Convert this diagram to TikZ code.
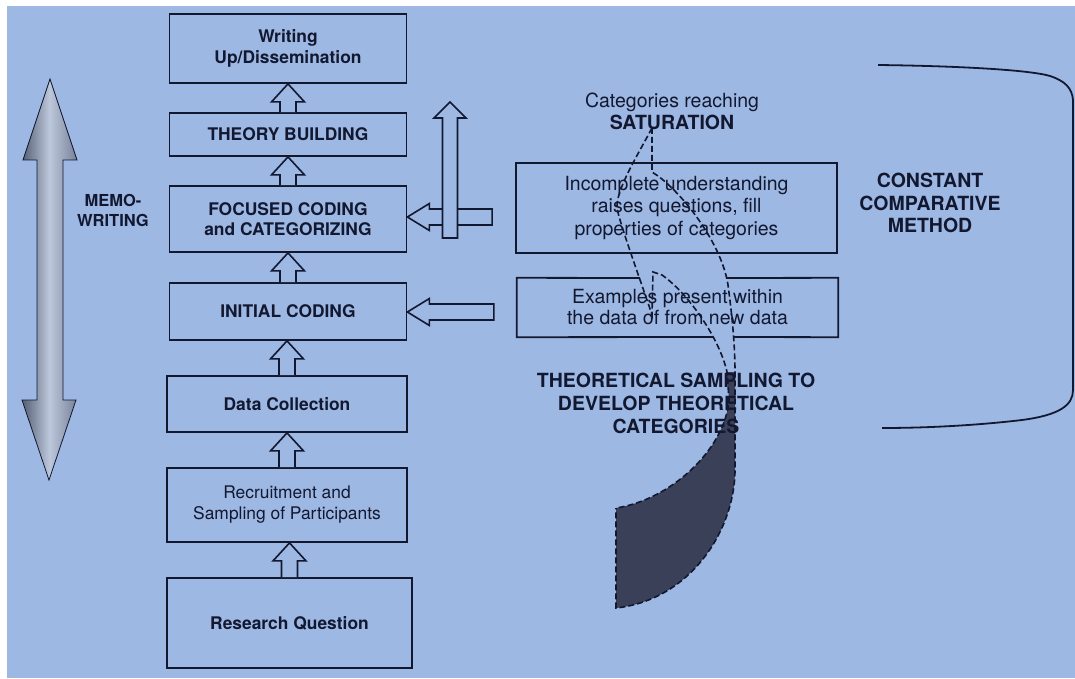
\documentclass[tikz,border=0pt]{standalone}
\usepackage{fontspec}
\setmainfont{TeX Gyre Heros}
\usetikzlibrary{calc}

\definecolor{page}{RGB}{158,184,228}
\definecolor{ink}{RGB}{18,24,48}
\definecolor{tailfill}{RGB}{58,64,88}
\definecolor{shaftdark}{RGB}{84,94,116}
\definecolor{shaftlight}{RGB}{190,200,220}
\definecolor{shaftmid}{RGB}{118,128,152}

\tikzset{
  stage/.style={draw=ink, line width=1.8pt, align=center, text=ink, inner sep=0pt,
    font=\fontsize{17.4}{20.5}\selectfont\bfseries},
  stageplain/.style={stage, font=\fontsize{17.4}{21}\selectfont},
  note/.style={align=center, text=ink, inner sep=0pt,
    font=\fontsize{19.5}{22.5}\selectfont},
  notebox/.style={note, draw=ink, line width=1.8pt},
  heading/.style={align=center, text=ink, inner sep=0pt,
    font=\fontsize{19.5}{23}\selectfont\bfseries},
  boxline/.style={draw=ink, line width=1.8pt, line join=miter},
  hollow/.style={draw=ink, line width=1.6pt, fill=page, line join=miter},
  dashline/.style={draw=ink, line width=1.6pt, dash pattern=on 6pt off 3pt},
}

% hollow block arrow from the top of #1 up to the bottom of #2
\newcommand\blockup[2]{%
  \draw[hollow] let \p1=(#1.north), \p2=(#2.south) in
    (\x1-8pt,\y1) -- (\x1-8pt,\y2-18pt) -- (\x1-16.5pt,\y2-18pt) -- (\x1,\y2)
    -- (\x1+16.5pt,\y2-18pt) -- (\x1+8pt,\y2-18pt) -- (\x1+8pt,\y1);}

% hollow block arrow leaving #1 to the left and ending on the right side of #2, at height #3
\newcommand\blockleft[3]{%
  \draw[hollow] let \p1=(#1.west), \p2=(#2.east), \p3=(0,#3) in
    (\x1-23pt,\y3+8pt) -- (\x2+22pt,\y3+8pt) -- (\x2+22pt,\y3+13.5pt) -- (\x2,\y3)
    -- (\x2+22pt,\y3-13.5pt) -- (\x2+22pt,\y3-8pt) -- (\x1-23pt,\y3-8pt) -- cycle;}

\begin{document}
\begin{tikzpicture}[x=1pt,y=-1pt]
\useasboundingbox (0,0) rectangle (1075,679);
\fill[white] (0,0) rectangle (1075,679);
\fill[page] (7,6) rectangle (1075,678);

% two-headed memo-writing arrow
\shadedraw[draw=ink, line width=0.8pt, line join=miter,
  left color=shaftdark, right color=shaftmid, middle color=shaftlight]
  (50,79) -- (77,160) -- (63,160) -- (63,400) -- (76,400) -- (49,480)
  -- (22,400) -- (37,400) -- (37,160) -- (23,160) -- cycle;
\node[heading, font=\fontsize{16.5}{20}\selectfont\bfseries] (memo) at (113,210) {MEMO-\\WRITING};

% main sequence of stages
\node[stage, minimum width=237pt, minimum height=69pt] (wr) at (288,48.5) {Writing\\Up/Dissemination};
\node[stage, minimum width=237pt, minimum height=43pt] (tb) at (288,134.5) {THEORY BUILDING};
\node[stage, minimum width=237pt, minimum height=66pt] (fc) at (288,219) {FOCUSED CODING\\and CATEGORIZING};
\node[stage, minimum width=237pt, minimum height=57pt] (ic) at (288,311.5) {INITIAL CODING};
\node[stage, minimum width=240pt, minimum height=56pt] (dc) at (287,404) {Data Collection};
\node[stageplain, minimum width=240pt, minimum height=74pt] (rs) at (287,505) {Recruitment and\\Sampling of Participants};
\node[stage, minimum width=245pt, minimum height=90pt] (rq) at (289.5,623) {Research Question};

\blockup{tb}{wr}
\blockup{fc}{tb}
\blockup{ic}{fc}
\blockup{dc}{ic}
\blockup{rs}{dc}
\blockup{rq}{rs}

% comparison boxes on the right
\node[notebox, minimum width=321pt, minimum height=90pt] (inc) at (676.5,208)
  {Incomplete understanding\\raises questions, fill\\properties of categories};
\node[note, font=\fontsize{19.5}{21}\selectfont, minimum width=321pt, minimum height=59pt] (ex) at (677.5,307.5)
  {Examples present within\\the data of from new data};

\blockleft{inc}{fc}{217}
\blockleft{ex}{ic}{312}

% arrow rising towards theory building
\coordinate (riseBase) at (450,238);
\coordinate (riseTip) at (450,102);
\draw[hollow] let \p1=(riseBase), \p2=(riseTip) in
  (\x1-7.5pt,\y1) -- (\x1-7.5pt,\y2-16pt) -- (\x1-16pt,\y2-16pt) -- (\x2,\y2)
  -- (\x1+16pt,\y2-16pt) -- (\x1+7.5pt,\y2-16pt) -- (\x1+7.5pt,\y1) -- cycle;

% theoretical sampling ribbon: dark tail
\fill[tailfill] (616,508) .. controls (670,500) and (725,450) .. (729,400) -- (727,372)
  -- (735,372) -- (735,467) .. controls (736,530) and (690,600) .. (616,608) -- cycle;

% ribbon edges
\draw[dashline] (652,128) -- (652,172) -- (658,176)
  .. controls (685,196) and (722,245) .. (728,285)
  .. controls (732,315) and (735,345) .. (735,372) -- (735,467)
  .. controls (736,530) and (690,600) .. (616,608) -- (616,508);
\draw[dashline] (652,128) .. controls (636,158) and (616,190) .. (617,208)
  .. controls (620,225) and (644,290) .. (652,315) -- (653,272) -- (662,275)
  .. controls (690,295) and (720,340) .. (727,372) -- (729,400)
  .. controls (725,450) and (670,500) .. (616,508);

% border of the examples box, open where the ribbon passes
\draw[boxline] (640,278) -- (ex.north west) -- (ex.south west) -- (713,337);
\draw[boxline] (727,278) -- (ex.north east) -- (ex.south east) -- (733,337);

% labels
\node[note] (sat) at (672,111.5) {Categories reaching\\\textbf{SATURATION}};
\node[heading] (ts) at (676,403.5) {THEORETICAL SAMPLING TO\\DEVELOP THEORETICAL\\CATEGORIES};
\node[heading, font=\fontsize{19.5}{22.5}\selectfont\bfseries] (ccm) at (930,203) {CONSTANT\\COMPARATIVE\\METHOD};

% bracket grouping the constant comparison
\draw[ink, line width=1.8pt] (878,65) .. controls (960,66) and (1030,70) .. (1050,76)
  .. controls (1065,81) and (1072,88) .. (1073,100) -- (1073,390)
  .. controls (1073,405) and (1060,415) .. (1022,420)
  .. controls (980,425) and (930,428) .. (882,428);
\end{tikzpicture}
\end{document}
